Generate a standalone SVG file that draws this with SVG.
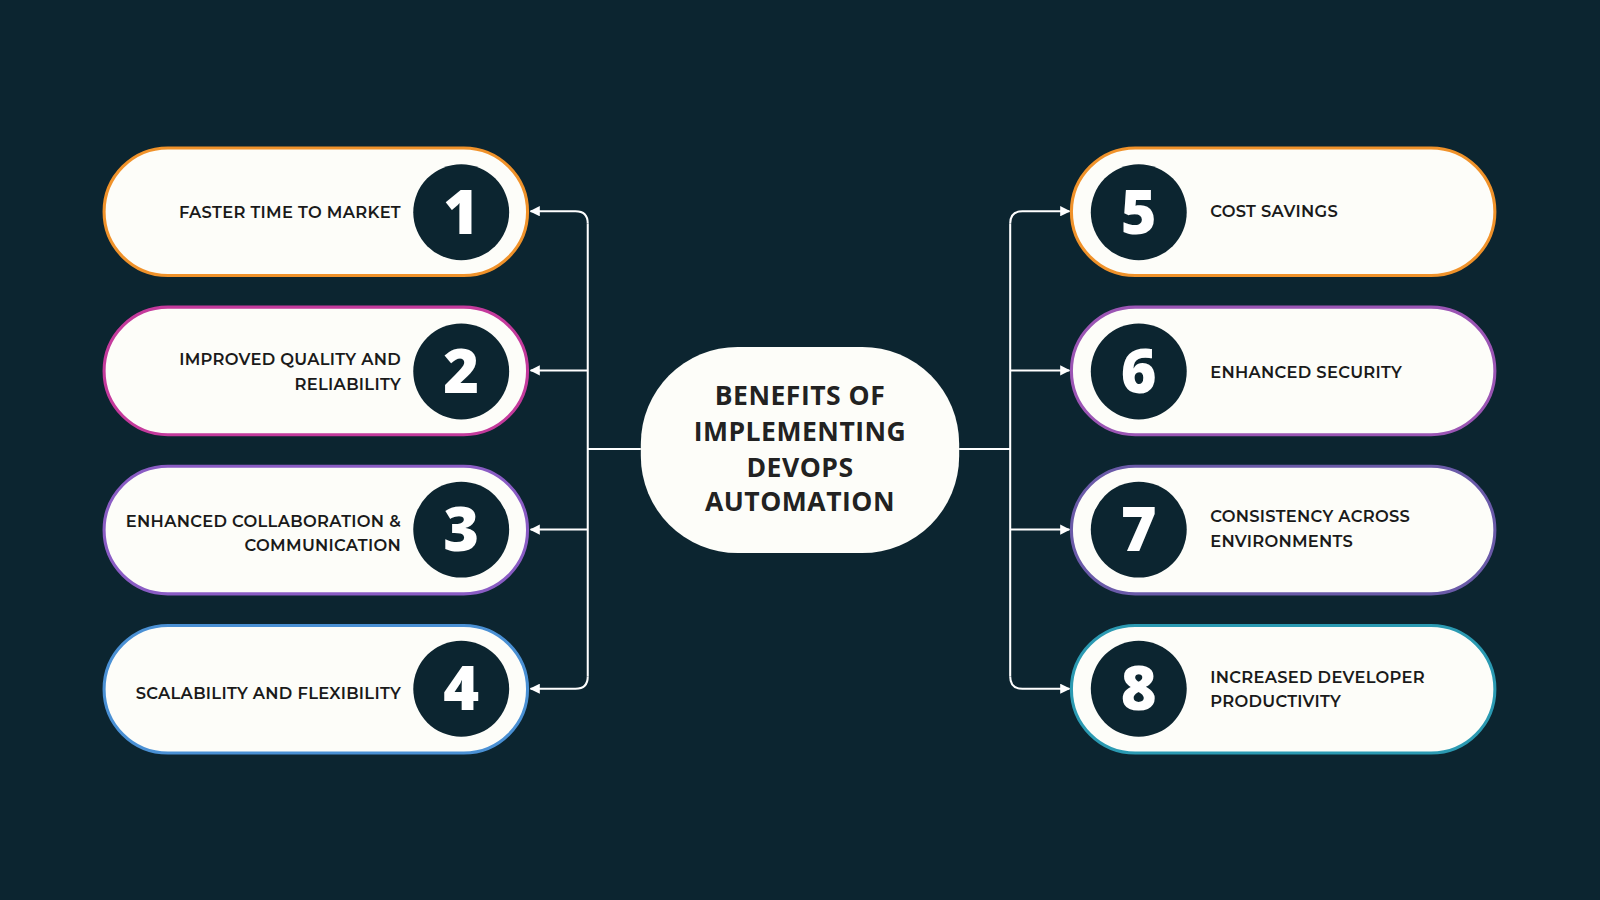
<svg xmlns="http://www.w3.org/2000/svg" width="1600" height="900" viewBox="0 0 1600 900">
<style>
.pill{fill:#fdfdf9;stroke-width:3}
.num{fill:#0c2530}
.n{font-family:"Open Sans","Liberation Sans",sans-serif;font-weight:800;font-size:60px;fill:#fff;text-anchor:middle}
.t{font-family:"Montserrat","Open Sans","Liberation Sans",sans-serif;font-weight:600;font-size:16px;fill:#1a1a1a;letter-spacing:0.3px}
.l{text-anchor:end}
.c{fill:none;stroke:#fff;stroke-width:2}
.h{font-family:"Open Sans","Liberation Sans",sans-serif;font-weight:700;font-size:26px;fill:#222;text-anchor:middle;letter-spacing:0.5px}
</style>
<defs>
<marker id="a" viewBox="0 0 10 10" refX="9" refY="5" markerWidth="5" markerHeight="5" orient="auto"><path d="M0,0L10,5L0,10z" fill="#fff"/></marker>
</defs>
<rect width="1600" height="900" fill="#0c2530"/>
<g transform="scale(1.0204)">
<g id="connectors">
<path class="c" d="M628,440H576" />
<path class="c" d="M576,219V663" />
<path class="c" d="M576,219Q576,207 564,207H520" marker-end="url(#a)"/>
<path class="c" d="M576,363H520" marker-end="url(#a)"/>
<path class="c" d="M576,519H520" marker-end="url(#a)"/>
<path class="c" d="M576,663Q576,675 564,675H520" marker-end="url(#a)"/>
<path class="c" d="M940,440H990" />
<path class="c" d="M990,219V663" />
<path class="c" d="M990,219Q990,207 1002,207H1048" marker-end="url(#a)"/>
<path class="c" d="M990,363H1048" marker-end="url(#a)"/>
<path class="c" d="M990,519H1048" marker-end="url(#a)"/>
<path class="c" d="M990,663Q990,675 1002,675H1048" marker-end="url(#a)"/>
</g>
<g id="center"><rect x="628" y="340" width="312" height="202" rx="95" fill="#fdfdf9"/>
<text class="h" x="784" y="397">BENEFITS OF</text><text class="h" x="784" y="432">IMPLEMENTING</text><text class="h" x="784" y="467">DEVOPS</text><text class="h" x="784" y="501">AUTOMATION</text></g>
<g id="n1"><rect class="pill" x="102" y="145" width="415" height="125" rx="62.5" stroke="#f0922a"/><circle class="num" cx="452" cy="208" r="47"/><text class="n" x="452" y="229">1</text><text class="t l" x="393" y="214">FASTER TIME TO MARKET</text></g>
<g id="n2"><rect class="pill" x="102" y="301" width="415" height="125" rx="62.5" stroke="#c43a9c"/><circle class="num" cx="452" cy="364" r="47"/><text class="n" x="452" y="385">2</text><text class="t l" x="393" y="358">IMPROVED QUALITY AND</text><text class="t l" x="393" y="382">RELIABILITY</text></g>
<g id="n3"><rect class="pill" x="102" y="457" width="415" height="125" rx="62.5" stroke="#8a5cc4"/><circle class="num" cx="452" cy="519" r="47"/><text class="n" x="452" y="540">3</text><text class="t l" x="393" y="516">ENHANCED COLLABORATION &amp;</text><text class="t l" x="393" y="540">COMMUNICATION</text></g>
<g id="n4"><rect class="pill" x="102" y="613" width="415" height="125" rx="62.5" stroke="#4a90d4"/><circle class="num" cx="452" cy="675" r="47"/><text class="n" x="452" y="696">4</text><text class="t l" x="393" y="685">SCALABILITY AND FLEXIBILITY</text></g>
<g id="n5"><rect class="pill" x="1050" y="145" width="415" height="125" rx="62.5" stroke="#f0922a"/><circle class="num" cx="1116" cy="208" r="47"/><text class="n" x="1116" y="229">5</text><text class="t" x="1186" y="213">COST SAVINGS</text></g>
<g id="n6"><rect class="pill" x="1050" y="301" width="415" height="125" rx="62.5" stroke="#9b55b4"/><circle class="num" cx="1116" cy="364" r="47"/><text class="n" x="1116" y="385">6</text><text class="t" x="1186" y="370">ENHANCED SECURITY</text></g>
<g id="n7"><rect class="pill" x="1050" y="457" width="415" height="125" rx="62.5" stroke="#6a5aa8"/><circle class="num" cx="1116" cy="519" r="47"/><text class="n" x="1116" y="540">7</text><text class="t" x="1186" y="512">CONSISTENCY ACROSS</text><text class="t" x="1186" y="536">ENVIRONMENTS</text></g>
<g id="n8"><rect class="pill" x="1050" y="613" width="415" height="125" rx="62.5" stroke="#2b9ab2"/><circle class="num" cx="1116" cy="675" r="47"/><text class="n" x="1116" y="696">8</text><text class="t" x="1186" y="669">INCREASED DEVELOPER</text><text class="t" x="1186" y="693">PRODUCTIVITY</text></g>
</g>
</svg>
